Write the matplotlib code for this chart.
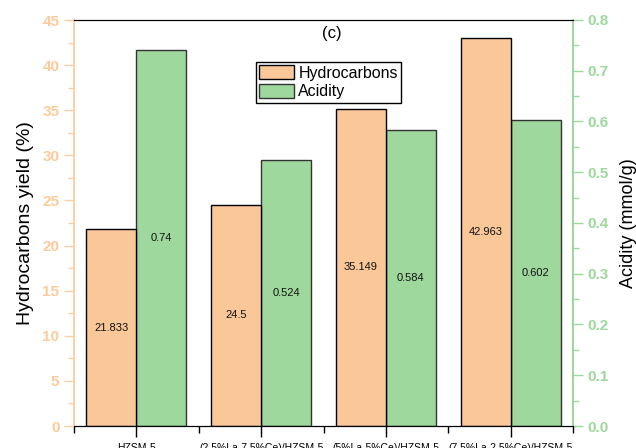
import matplotlib
matplotlib.use("Agg")
import matplotlib.pyplot as plt
from matplotlib.ticker import MultipleLocator, FixedLocator, FormatStrFormatter
import numpy as np

plt.rcParams['font.family'] = ['Liberation Sans', 'DejaVu Sans']

categories = ["HZSM-5", "(2.5%La-7.5%Ce)/HZSM-5", "(5%La-5%Ce)/HZSM-5", "(7.5%La-2.5%Ce)/HZSM-5"]
hydrocarbons = [21.833, 24.5, 35.149, 42.963]
acidity = [0.74, 0.524, 0.584, 0.602]
hc_labels = ["21.833", "24.5", "35.149", "42.963"]
ac_labels = ["0.74", "0.524", "0.584", "0.602"]

c_orange = '#FAC898'
c_green = '#9ED89C'
c_orange_txt = '#FDCB9B'
c_green_txt = '#9CD99A'
c_orange_sp = '#FDCFA4'

fig = plt.figure(figsize=(6.36, 4.48), dpi=100)
ax = fig.add_axes([74/636, 1-426/448, (573-74)/636, (426-20)/448])
ax2 = ax.twinx()

x = np.arange(len(categories))
w = 0.4
b1 = ax.bar(x - w/2, hydrocarbons, w, color=c_orange, edgecolor='black', linewidth=1, label='Hydrocarbons', zorder=2)
b2 = ax2.bar(x + w/2, acidity, w, color=c_green, edgecolor='#333333', linewidth=1, label='Acidity', zorder=2)

for xi, v, t in zip(x, hydrocarbons, hc_labels):
    ax.text(xi - w/2, v/2, t, ha='center', va='center', fontsize=8, color='#111111')
for xi, v, t in zip(x, acidity, ac_labels):
    ax2.text(xi + w/2, v/2, t, ha='center', va='center', fontsize=8, color='#111111')

ax.set_xlim(-0.5, len(categories) - 0.5)
ax.set_ylim(0, 45)
ax2.set_ylim(0, 0.8)

ax.set_xticks(x)
ax.set_xticklabels(categories, fontsize=7.5)
ax.xaxis.set_minor_locator(FixedLocator(np.arange(-0.5, len(categories), 1.0)))
ax.tick_params(axis='x', which='major', length=8, width=1, direction='out', pad=4)
ax.tick_params(axis='x', which='minor', length=5, width=1, direction='out')

ax.yaxis.set_major_locator(MultipleLocator(5))
ax.yaxis.set_minor_locator(MultipleLocator(2.5))
ax.tick_params(axis='y', which='major', length=7, width=1, colors=c_orange_sp, labelcolor=c_orange_txt, labelsize=11)
ax.tick_params(axis='y', which='minor', length=4, width=1, colors=c_orange_sp)
for lab in ax.get_yticklabels():
    lab.set_fontweight('bold')

ax2.yaxis.set_major_locator(MultipleLocator(0.1))
ax2.yaxis.set_minor_locator(MultipleLocator(0.05))
ax2.tick_params(axis='y', which='major', length=7, width=1, colors=c_green, labelcolor=c_green_txt, labelsize=11)
ax2.tick_params(axis='y', which='minor', length=4, width=1, colors=c_green)
ax2.yaxis.set_major_formatter(FormatStrFormatter('%.1f'))
for lab in ax2.get_yticklabels():
    lab.set_fontweight('bold')

for a in (ax, ax2):
    a.spines['left'].set_color(c_orange_sp)
    a.spines['right'].set_color(c_green)
    a.spines['top'].set_color('black')
    a.spines['bottom'].set_color('black')
    a.spines['left'].set_linewidth(1.2)
    a.spines['right'].set_linewidth(1.2)

ax.set_ylabel("Hydrocarbons yield (%)", fontsize=14, labelpad=6)
ax2.set_ylabel("Acidity (mmol/g)", fontsize=13, labelpad=8)

ax.text(0.517, 0.966, "(c)", transform=ax.transAxes, ha='center', va='center', fontsize=12)

leg = ax.legend([b1, b2], ['Hydrocarbons', 'Acidity'], loc='upper left', bbox_to_anchor=(0.365, 0.897),
                fontsize=11.5, frameon=True, fancybox=False, edgecolor='black', framealpha=1,
                borderpad=0.2, handlelength=2.2, handleheight=1.0, labelspacing=0.2, handletextpad=0.25,
                borderaxespad=0)
leg.get_frame().set_linewidth(1)
leg.set_zorder(10)
ax.set_zorder(ax2.get_zorder() + 1)
ax.patch.set_visible(False)

fig.savefig("out.png", dpi=100)
